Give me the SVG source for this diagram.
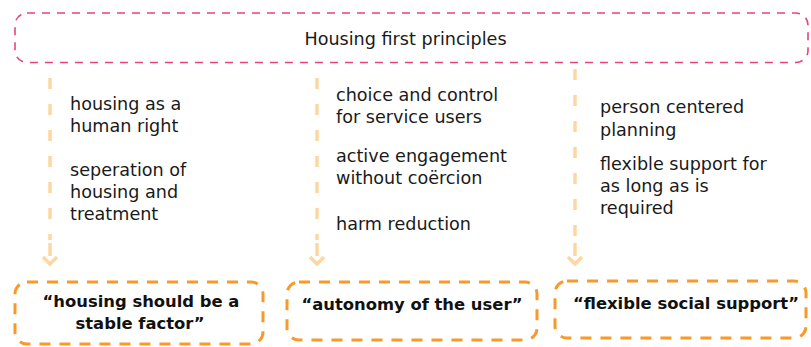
<svg xmlns="http://www.w3.org/2000/svg" width="811" height="347" viewBox="0 0 811 347">
<style>
.t{font-family:"DejaVu Sans","Noto Sans",sans-serif;font-size:17.6px;fill:#1a1a1a}
.b{font-family:"DejaVu Sans","Noto Sans",sans-serif;font-size:16.4px;font-weight:bold;fill:#111;text-anchor:middle}
.top{fill:none;stroke:#e5447d;stroke-width:1.6;stroke-dasharray:8 7}
.box{fill:none;stroke:#f79a2a;stroke-width:3;stroke-dasharray:11 9}
.con{fill:none;stroke:#fdd7a2;stroke-width:3.5;stroke-dasharray:11 15}
.ah{fill:none;stroke:#fdd7a2;stroke-width:3.5}
</style>
<g id="header">
<rect class="top" x="15" y="13" width="793" height="49.5" rx="12"/>
<text class="t" x="405.5" y="45" text-anchor="middle">Housing first principles</text>
</g>
<g id="connectors">
<line class="con" x1="50" y1="78" x2="50" y2="240"/>
<line class="con" x1="317" y1="78" x2="317" y2="240"/>
<line class="con" x1="575" y1="69" x2="575" y2="240"/>
<path class="ah" d="M50 243V256M43 257L50 264L57 257"/>
<path class="ah" d="M317 243V256M310 257L317 264L324 257"/>
<path class="ah" d="M575 243V256M568 257L575 264L582 257"/>
</g>
<g id="col1">
<text class="t" x="70" y="110">housing as a</text>
<text class="t" x="70" y="132">human right</text>
<text class="t" x="70" y="176">seperation of</text>
<text class="t" x="70" y="198">housing and</text>
<text class="t" x="70" y="220">treatment</text>
</g>
<g id="col2">
<text class="t" x="336" y="101">choice and control</text>
<text class="t" x="336" y="123">for service users</text>
<text class="t" x="336" y="162">active engagement</text>
<text class="t" x="336" y="184">without coërcion</text>
<text class="t" x="336" y="230">harm reduction</text>
</g>
<g id="col3">
<text class="t" x="600" y="113">person centered</text>
<text class="t" x="600" y="136">planning</text>
<text class="t" x="600" y="170">flexible support for</text>
<text class="t" x="600" y="192">as long as is</text>
<text class="t" x="600" y="214">required</text>
</g>
<g id="box1">
<rect class="box" x="15" y="282" width="248" height="62" rx="12"/>
<text class="b" x="141" y="307">“housing should be a</text>
<text class="b" x="140" y="329">stable factor”</text>
</g>
<g id="box2">
<rect class="box" x="287" y="282" width="250" height="58" rx="12"/>
<text class="b" x="412" y="310">“autonomy of the user”</text>
</g>
<g id="box3">
<rect class="box" x="555" y="281" width="251" height="57" rx="12"/>
<text class="b" x="686" y="309">“flexible social support”</text>
</g>
</svg>
